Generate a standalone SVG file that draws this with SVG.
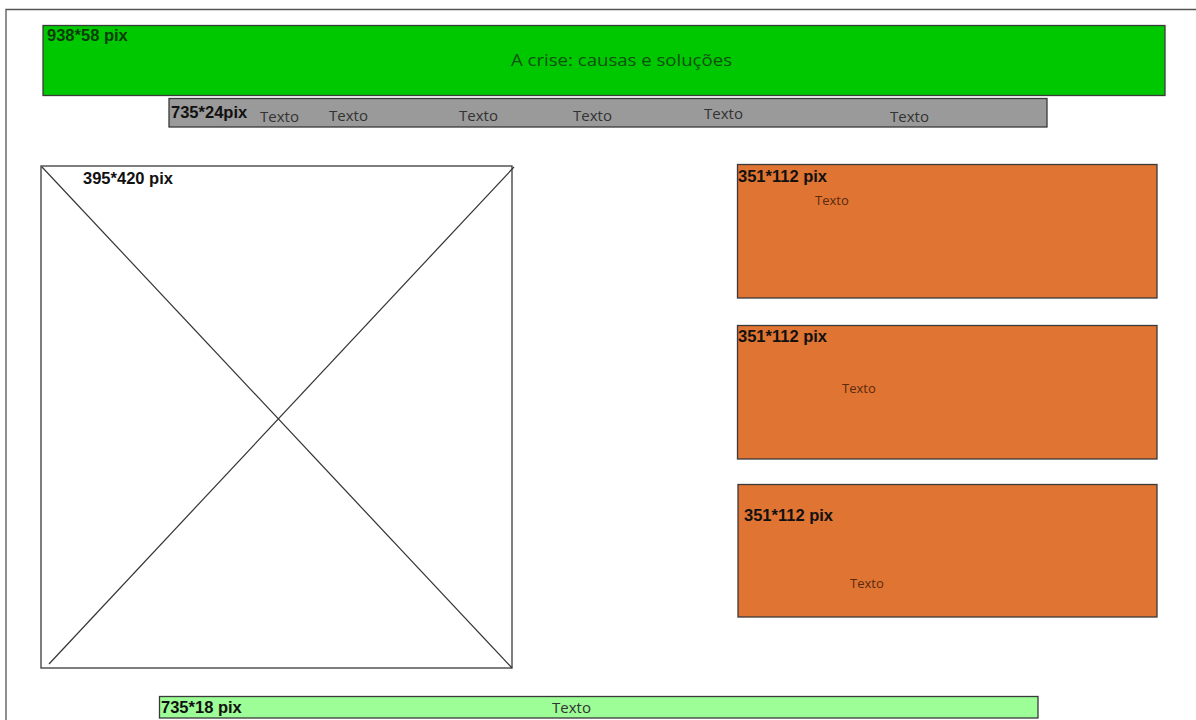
<svg xmlns="http://www.w3.org/2000/svg" width="1196" height="720" viewBox="0 0 1196 720">
<style>
.box{stroke:#3a3a3a;stroke-width:1.3}
.lbl{font-family:"Liberation Sans",Arial,sans-serif;font-weight:bold;font-size:16.5px;fill:#111}
.txt{font-family:"Open Sans","Liberation Sans",sans-serif;font-size:15px;fill:#333}
.otxt{font-family:"Open Sans","Liberation Sans",sans-serif;font-size:13px;fill:#5a2a10}
</style>
<rect width="1196" height="720" fill="#fff"/>
<path d="M6 720 V9.5 H1196" fill="none" stroke="#555" stroke-width="1.3"/>
<g id="header">
<rect class="box" x="43" y="25.5" width="1122" height="70" fill="#00c800"/>
<text class="lbl" x="47" y="41" style="fill:#0b3d0b">938*58 pix</text>
<text x="511" y="66" font-family="'Open Sans','Liberation Sans',sans-serif" font-size="16.5" textLength="221" lengthAdjust="spacingAndGlyphs" fill="#0f4f0f">A crise: causas e soluções</text>
</g>
<g id="menu">
<rect class="box" x="169" y="98.5" width="878" height="28.5" fill="#9a9a9a"/>
<text class="lbl" x="171" y="118">735*24pix</text>
<text class="txt" x="260" y="122">Texto</text>
<text class="txt" x="329" y="121">Texto</text>
<text class="txt" x="459" y="121">Texto</text>
<text class="txt" x="573" y="121">Texto</text>
<text class="txt" x="704" y="119">Texto</text>
<text class="txt" x="890" y="122">Texto</text>
</g>
<g id="image">
<rect class="box" x="41" y="166" width="471" height="502" fill="#fff"/>
<line x1="42" y1="167" x2="512" y2="668" stroke="#333" stroke-width="1.2"/>
<line x1="514" y1="167" x2="49" y2="664" stroke="#333" stroke-width="1.2"/>
<text class="lbl" x="83" y="184">395*420 pix</text>
</g>
<g id="box1">
<rect class="box" x="737.5" y="164.5" width="419.5" height="133.5" fill="#e07432"/>
<text class="lbl" x="738" y="182">351*112 pix</text>
<text class="otxt" x="815" y="205">Texto</text>
</g>
<g id="box2">
<rect class="box" x="737.5" y="325.5" width="419.5" height="133.5" fill="#e07432"/>
<text class="lbl" x="738" y="342">351*112 pix</text>
<text class="otxt" x="842" y="393">Texto</text>
</g>
<g id="box3">
<rect class="box" x="738" y="484.5" width="419" height="132.5" fill="#e07432"/>
<text class="lbl" x="744" y="521">351*112 pix</text>
<text class="otxt" x="850" y="588">Texto</text>
</g>
<g id="footer">
<rect class="box" x="159.5" y="696.5" width="878.5" height="21.5" fill="#9dfd96"/>
<text class="lbl" x="161" y="713">735*18 pix</text>
<text class="txt" x="552" y="713">Texto</text>
</g>
<g id="connectors"></g>
</svg>
